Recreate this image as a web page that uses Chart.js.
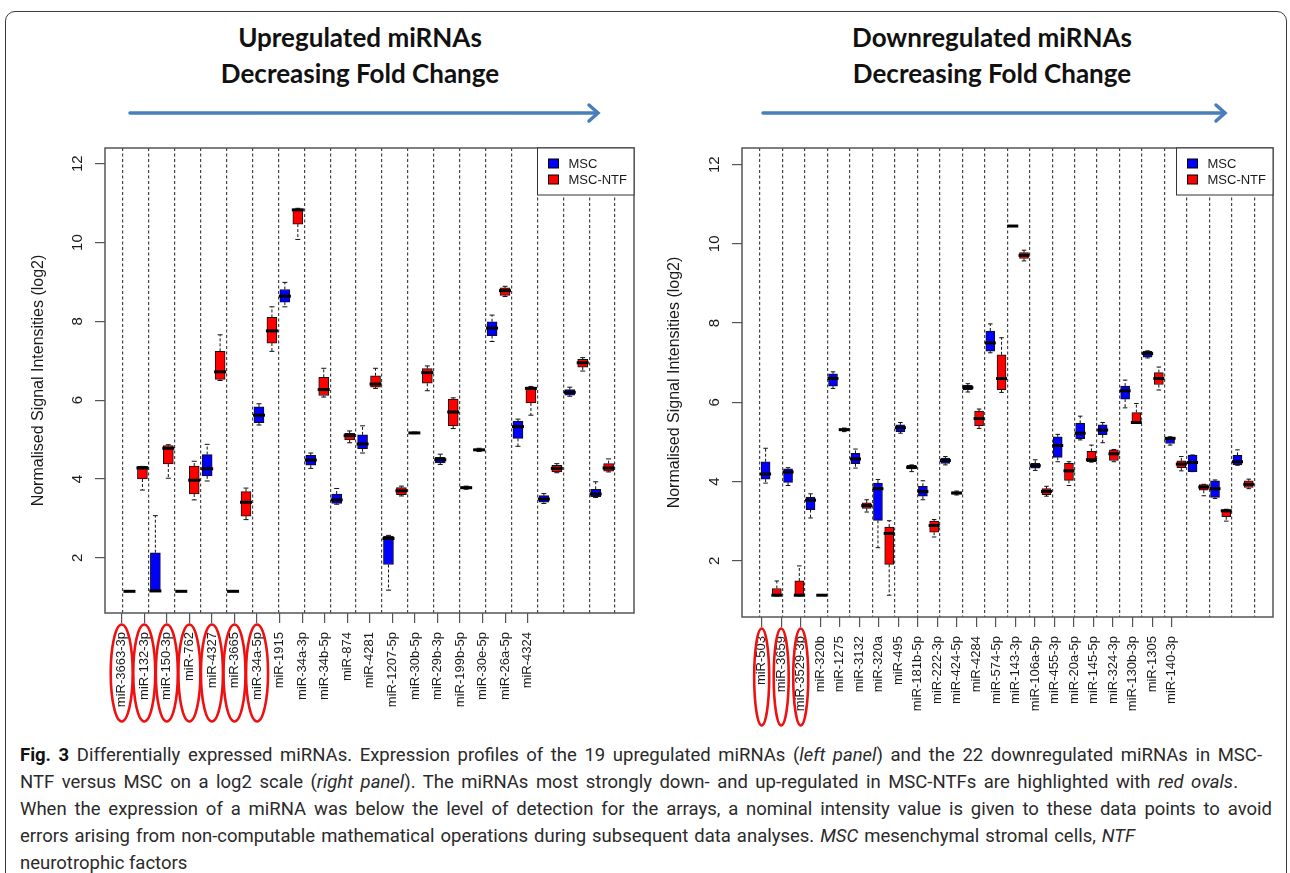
<!DOCTYPE html>
<html>
<head>
<meta charset="utf-8">
<script src="https://cdn.jsdelivr.net/npm/chart.js@4.4.1/dist/chart.umd.min.js"></script>
<style>
  body { margin: 0; width: 1290px; height: 873px; overflow: hidden; position: relative; background: #fff; }
  .frame { position: absolute; left: 5px; top: 11px; width: 1280px; height: 900px; border: 1.5px solid #3a3a3a; border-radius: 10px; }
  .head { position: absolute; top: 19px; width: 400px; text-align: center; font-family: Lato, sans-serif; font-weight: 700; font-size: 26px; line-height: 36px; color: #111; }
  .plot { position: absolute; top: 130px; }
  .cap { position: absolute; left: 20px; top: 742px; font-family: Roboto, sans-serif; font-size: 18.5px; color: #2a2a2a; }
  .cap div { white-space: nowrap; height: 26.9px; line-height: 26.9px; text-align: justify; text-align-last: justify; }
  .cap div.last { text-align-last: left; }
  .cap b { color: #111; }
</style>
</head>
<body>
<div class="frame"></div>
<div class="head" style="left:160px">Upregulated miRNAs<br>Decreasing Fold Change</div>
<div class="head" style="left:792px">Downregulated miRNAs<br>Decreasing Fold Change</div>
<svg style="position:absolute;left:0;top:0" width="1290" height="140">
  <g stroke="#4a7ebb" stroke-width="3.5" fill="none" stroke-linecap="round">
    <line x1="130" y1="113" x2="597" y2="113"/>
    <polyline points="589,105 598,113 589,121"/>
    <line x1="763" y1="113" x2="1224" y2="113"/>
    <polyline points="1216,105 1225,113 1216,121"/>
  </g>
</svg>
<div class="plot" style="left:0"><canvas id="upChart" width="642" height="610"></canvas></div>
<div class="plot" style="left:645px"><canvas id="downChart" width="645" height="610"></canvas></div>
<div class="cap">
  <div style="width:1242px"><b>Fig. 3</b> Differentially expressed miRNAs. Expression profiles of the 19 upregulated miRNAs (<i>left panel</i>) and the 22 downregulated miRNAs in MSC-</div>
  <div style="width:1218px">NTF versus MSC on a log2 scale (<i>right panel</i>). The miRNAs most strongly down- and up-regulated in MSC-NTFs are highlighted with <i>red ovals</i>.</div>
  <div style="width:1252px">When the expression of a miRNA was below the level of detection for the arrays, a nominal intensity value is given to these data points to avoid</div>
  <div style="width:1115px">errors arising from non-computable mathematical operations during subsequent data analyses. <i>MSC</i> mesenchymal stromal cells, <i>NTF</i></div>
  <div class="last">neurotrophic factors</div>
</div>
<script>
// box stats per miRNA: [min, q1, median, q3, max] (log2 intensity)
const upLabels = ['miR-3663-3p', 'miR-132-3p', 'miR-150-3p', 'miR-762', 'miR-4327', 'miR-3665', 'miR-34a-5p',
  'miR-1915', 'miR-34a-3p', 'miR-34b-5p', 'miR-874', 'miR-4281', 'miR-1207-5p', 'miR-30b-5p', 'miR-29b-3p',
  'miR-199b-5p', 'miR-30e-5p', 'miR-26a-5p', 'miR-4324'];
const upHighlighted = ['miR-3663-3p', 'miR-132-3p', 'miR-150-3p', 'miR-762', 'miR-4327', 'miR-3665', 'miR-34a-5p'];
const upMsc = [
  [1.15, 1.15, 1.15, 1.15, 1.15], [1.15, 1.15, 1.16, 2.13, 3.07], [1.15, 1.15, 1.15, 1.15, 1.15],
  [3.95, 4.08, 4.26, 4.62, 4.88], [1.15, 1.15, 1.15, 1.15, 1.15], [5.37, 5.43, 5.62, 5.83, 5.91],
  [8.37, 8.49, 8.64, 8.81, 8.99], [4.27, 4.35, 4.48, 4.6, 4.66], [3.36, 3.38, 3.47, 3.62, 3.76],
  [4.66, 4.77, 4.89, 5.12, 5.35], [1.18, 1.83, 2.49, 2.55, 2.57], [5.15, 5.16, 5.17, 5.18, 5.19],
  [4.37, 4.41, 4.49, 4.55, 4.63], [3.74, 3.76, 3.78, 3.8, 3.82], [7.49, 7.64, 7.83, 7.99, 8.16],
  [4.83, 5.03, 5.33, 5.47, 5.52], [3.38, 3.41, 3.49, 3.58, 3.63], [6.1, 6.13, 6.2, 6.27, 6.33],
  [3.53, 3.55, 3.62, 3.74, 3.93],
];
const upNtf = [
  [3.72, 4.0, 4.28, 4.32, 4.32], [4.02, 4.38, 4.78, 4.85, 4.87], [3.47, 3.62, 3.97, 4.33, 4.45],
  [6.5, 6.53, 6.72, 7.24, 7.66], [2.97, 3.06, 3.41, 3.68, 3.77], [7.24, 7.45, 7.76, 8.1, 8.37],
  [10.08, 10.47, 10.83, 10.85, 10.87], [6.08, 6.12, 6.27, 6.58, 6.81], [4.92, 4.99, 5.1, 5.16, 5.22],
  [6.3, 6.33, 6.41, 6.62, 6.81], [3.57, 3.6, 3.7, 3.78, 3.82], [6.24, 6.43, 6.7, 6.8, 6.87],
  [5.28, 5.35, 5.7, 6.03, 6.06], [4.7, 4.72, 4.74, 4.76, 4.78], [8.63, 8.66, 8.78, 8.85, 8.89],
  [5.62, 5.93, 6.3, 6.33, 6.35], [4.16, 4.18, 4.27, 4.35, 4.39], [6.74, 6.84, 6.95, 7.04, 7.08],
  [4.18, 4.2, 4.28, 4.39, 4.51],
];

const downLabels = ['miR-503', 'miR-3659', 'miR-3529-3p', 'miR-320b', 'miR-1275', 'miR-3132', 'miR-320a',
  'miR-495', 'miR-181b-5p', 'miR-222-3p', 'miR-424-5p', 'miR-4284', 'miR-574-5p', 'miR-143-3p',
  'miR-106a-5p', 'miR-455-3p', 'miR-20a-5p', 'miR-145-5p', 'miR-324-3p', 'miR-130b-3p', 'miR-1305', 'miR-140-3p'];
const downHighlighted = ['miR-503', 'miR-3659', 'miR-3529-3p'];
const downMsc = [
  [3.96, 4.06, 4.19, 4.5, 4.84], [3.9, 3.98, 4.24, 4.32, 4.35], [3.08, 3.29, 3.53, 3.61, 3.69],
  [6.35, 6.41, 6.6, 6.72, 6.77], [4.34, 4.45, 4.57, 4.71, 4.82], [2.33, 3.02, 3.82, 3.96, 4.05],
  [5.22, 5.26, 5.36, 5.43, 5.49], [3.54, 3.63, 3.75, 3.88, 4.02], [4.42, 4.46, 4.53, 4.59, 4.63],
  [6.26, 6.32, 6.37, 6.43, 6.47], [7.25, 7.29, 7.5, 7.8, 7.98], [10.44, 10.44, 10.45, 10.46, 10.46],
  [4.28, 4.34, 4.4, 4.46, 4.55], [4.5, 4.61, 4.91, 5.13, 5.19], [5.05, 5.08, 5.22, 5.47, 5.65],
  [4.98, 5.18, 5.3, 5.43, 5.49], [5.86, 6.08, 6.29, 6.41, 6.56], [7.12, 7.14, 7.23, 7.29, 7.3],
  [4.92, 4.96, 5.09, 5.12, 5.13], [4.25, 4.25, 4.48, 4.67, 4.67], [3.57, 3.6, 3.82, 4.02, 4.04],
  [4.41, 4.42, 4.5, 4.66, 4.8],
];
const downNtf = [
  [1.11, 1.11, 1.13, 1.3, 1.49], [1.11, 1.11, 1.13, 1.49, 1.87], [1.13, 1.13, 1.13, 1.13, 1.13],
  [5.26, 5.28, 5.31, 5.33, 5.35], [3.23, 3.32, 3.39, 3.46, 3.54], [1.13, 1.91, 2.69, 2.85, 3.01],
  [4.25, 4.32, 4.36, 4.41, 4.42], [2.6, 2.72, 2.89, 3.0, 3.04], [3.66, 3.68, 3.71, 3.74, 3.76],
  [5.34, 5.41, 5.59, 5.78, 5.83], [6.25, 6.32, 6.6, 7.2, 7.63], [9.57, 9.63, 9.71, 9.78, 9.84],
  [3.63, 3.67, 3.75, 3.82, 3.88], [3.9, 4.03, 4.27, 4.46, 4.5], [4.49, 4.5, 4.55, 4.76, 4.92],
  [4.5, 4.53, 4.7, 4.8, 4.81], [5.47, 5.47, 5.49, 5.74, 5.97], [6.31, 6.45, 6.6, 6.75, 6.89],
  [4.27, 4.35, 4.44, 4.52, 4.63], [3.64, 3.78, 3.86, 3.92, 3.93], [3.0, 3.11, 3.26, 3.29, 3.3],
  [3.82, 3.85, 3.93, 4.02, 4.06],
];

const yTitle = 'Normalised Signal Intensities (log2)';
const groupNames = ['MSC', 'MSC-NTF'];
const groupColors = ['#0000ff', '#ff0000'];

Chart.defaults.font.family = "'Liberation Sans', Arial, sans-serif";
Chart.defaults.color = '#1a1a1a';

// whiskers + staples under the boxes, medians over them
const boxParts = {
  id: 'boxParts',
  beforeDatasetsDraw(chart) {
    const { ctx } = chart;
    const y = chart.scales.y;
    chart.data.datasets.forEach((ds, di) => {
      chart.getDatasetMeta(di).data.forEach((bar, i) => {
        const [min, q1, , q3, max] = ds.stats[i];
        const { x, width } = bar.getProps(['x', 'width'], true);
        ctx.save();
        ctx.strokeStyle = '#111';
        ctx.lineWidth = 1;
        ctx.setLineDash([3, 2]);
        ctx.beginPath();
        ctx.moveTo(x, y.getPixelForValue(q3));
        ctx.lineTo(x, y.getPixelForValue(max));
        ctx.moveTo(x, y.getPixelForValue(q1));
        ctx.lineTo(x, y.getPixelForValue(min));
        ctx.stroke();
        ctx.setLineDash([]);
        ctx.beginPath();
        [min, max].forEach((v) => {
          const py = y.getPixelForValue(v);
          ctx.moveTo(x - width / 4, py);
          ctx.lineTo(x + width / 4, py);
        });
        ctx.stroke();
        ctx.restore();
      });
    });
  },
  afterDatasetsDraw(chart) {
    const { ctx } = chart;
    const y = chart.scales.y;
    chart.data.datasets.forEach((ds, di) => {
      chart.getDatasetMeta(di).data.forEach((bar, i) => {
        const { x, width } = bar.getProps(['x', 'width'], true);
        const py = y.getPixelForValue(ds.stats[i][2]);
        ctx.save();
        ctx.strokeStyle = '#000';
        ctx.lineWidth = 3;
        ctx.beginPath();
        ctx.moveTo(x - width / 2 - 1, py);
        ctx.lineTo(x + width / 2 + 1, py);
        ctx.stroke();
        ctx.restore();
      });
    });
  },
};

// R-style box around the plot region, legend in the top right corner, red ovals on labels
const panelDecor = {
  id: 'panelDecor',
  afterDraw(chart, args, opts) {
    const { ctx, chartArea: area } = chart;
    ctx.save();
    ctx.strokeStyle = '#555';
    ctx.lineWidth = 1.5;
    ctx.strokeRect(area.left, area.top, area.right - area.left, area.bottom - area.top);

    ctx.font = "13px 'Liberation Sans', Arial, sans-serif";
    const textW = Math.max(...chart.data.datasets.map((ds) => ctx.measureText(ds.label).width));
    const w = 11 + 10 + 10 + textW + 7;
    const h = 47;
    const lx = area.right - w;
    ctx.fillStyle = '#fff';
    ctx.fillRect(lx, area.top, w, h);
    ctx.strokeStyle = '#333';
    ctx.lineWidth = 1;
    ctx.strokeRect(lx, area.top, w, h);
    chart.data.datasets.forEach((ds, di) => {
      const cy = area.top + 15.5 + di * 16;
      ctx.fillStyle = ds.backgroundColor;
      ctx.fillRect(lx + 11, cy - 4.5, 10, 9);
      ctx.strokeStyle = '#000';
      ctx.strokeRect(lx + 11, cy - 4.5, 10, 9);
      ctx.fillStyle = '#1a1a1a';
      ctx.textBaseline = 'middle';
      ctx.fillText(ds.label, lx + 31, cy + 0.5);
    });

    const xs = chart.scales.x;
    ctx.strokeStyle = '#ee1111';
    ctx.lineWidth = 2.6;
    opts.highlighted.forEach((name) => {
      const i = chart.data.labels.indexOf(name);
      const px = xs.getPixelForValue(xs.ticks[i].value);
      ctx.beginPath();
      ctx.ellipse(px, area.bottom + 60, opts.ovalRx, 48.5, 0, 0, Math.PI * 2);
      ctx.stroke();
    });
    ctx.restore();
  },
};

function createBoxPanel(canvasId, { labels, msc, ntf, highlighted, geom }) {
  const nPairs = labels.length;
  const makeSet = (stats, gi, shift) => ({
    label: groupNames[gi],
    stats: stats,
    data: stats.map((s, i) => ({ x: i + 0.5 + shift, y: [s[1], s[3]] })),
    backgroundColor: groupColors[gi],
    borderColor: '#111',
    borderWidth: 1,
    borderSkipped: false,
    barThickness: geom.barThickness,
    grouped: false,
  });

  return new Chart(document.getElementById(canvasId), {
    type: 'bar',
    data: {
      labels: labels,
      datasets: [makeSet(msc, 0, -0.25), makeSet(ntf, 1, 0.25)],
    },
    plugins: [boxParts, panelDecor],
    options: {
      responsive: false,
      animation: false,
      layout: { padding: geom.padding },
      plugins: {
        legend: { display: false },
        tooltip: { enabled: false },
        panelDecor: { highlighted: highlighted, ovalRx: geom.ovalRx },
      },
      scales: {
        x: {
          type: 'linear',
          position: 'bottom',
          min: geom.xMin,
          max: geom.xMax,
          offset: false,
          afterBuildTicks: (axis) => {
            axis.ticks = labels.map((_, i) => ({ value: geom.labelStart + i * geom.labelStep }));
          },
          afterFit: (axis) => { axis.height = geom.xAxisHeight; },
          ticks: {
            autoSkip: false,
            minRotation: 90,
            maxRotation: 90,
            padding: 9,
            color: '#1a1a1a',
            font: { size: 13 },
            callback: (value, index) => labels[index],
          },
          grid: { offset: false, drawOnChartArea: false, drawTicks: true, tickLength: 10, color: '#555', lineWidth: 1.2 },
          border: { display: false },
        },
        sep: {
          type: 'linear',
          position: 'top',
          min: geom.xMin,
          max: geom.xMax,
          offset: false,
          afterBuildTicks: (axis) => {
            axis.ticks = Array.from({ length: nPairs + 1 }, (_, k) => ({ value: k }));
          },
          afterFit: (axis) => { axis.height = 0; },
          ticks: { display: false, autoSkip: false },
          grid: { offset: false, drawOnChartArea: true, drawTicks: false, color: '#444', lineWidth: 1.2 },
          border: { display: false, dash: [3, 2.5] },
        },
        y: {
          type: 'linear',
          min: geom.yMin,
          max: geom.yMax,
          afterFit: (axis) => { axis.width = geom.yAxisWidth; },
          ticks: {
            stepSize: 2,
            includeBounds: false,
            minRotation: 90,
            maxRotation: 90,
            crossAlign: 'center',
            padding: 9,
            color: '#1a1a1a',
            font: { size: 15 },
          },
          grid: { drawOnChartArea: false, drawTicks: true, tickLength: 10, color: '#555', lineWidth: 1.2 },
          border: { display: false },
          title: {
            display: true,
            text: yTitle,
            color: '#1a1a1a',
            font: { size: 16 },
            padding: { top: 0, bottom: 0 },
          },
        },
      },
    },
  });
}

createBoxPanel('upChart', {
  labels: upLabels, msc: upMsc, ntf: upNtf, highlighted: upHighlighted,
  geom: {
    xMin: -0.695, xMax: 19.73, yMin: 0.6, yMax: 12.4,
    labelStart: -0.05, labelStep: 0.871, barThickness: 10, ovalRx: 11,
    padding: { left: 29.4, top: 12, right: 8, bottom: 0 },
    xAxisHeight: 127, yAxisWidth: 75.6,
  },
});

createBoxPanel('downChart', {
  labels: downLabels, msc: downMsc, ntf: downNtf, highlighted: downHighlighted,
  geom: {
    xMin: -0.8, xMax: 22.83, yMin: 0.58, yMax: 12.42,
    labelStart: 0.076, labelStep: 0.8687, barThickness: 9, ovalRx: 7.5,
    padding: { left: 20.4, top: 15, right: 17, bottom: 0 },
    xAxisHeight: 123, yAxisWidth: 76.6,
  },
});
</script>
</body>
</html>
